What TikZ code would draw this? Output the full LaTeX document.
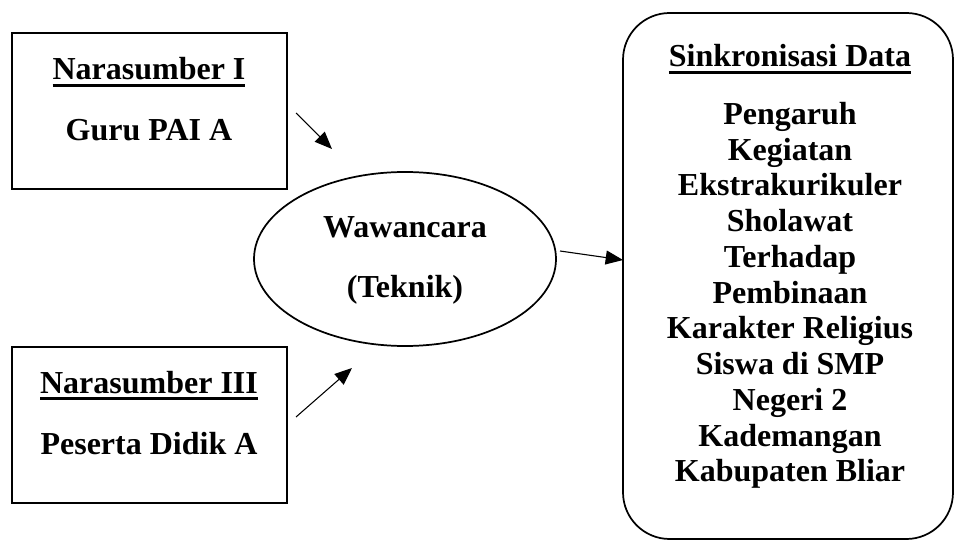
\documentclass[tikz,border=0pt]{standalone}
\usepackage{fontspec}
\setmainfont{Liberation Serif}
\usetikzlibrary{arrows.meta}
\tikzset{panah/.style = {-{Triangle[length=13pt,width=10.5pt]}, line width=0.8pt}}
\tikzset{teks/.style = {font=\fontsize{24}{26.8}\selectfont\bfseries, inner sep=0, anchor=base}}
\newcommand{\garisbawah}[1]{\setbox0\hbox{#1}\rlap{\rule[-5.2pt]{\wd0}{2.2pt}}\box0}

\begin{document}
\begin{tikzpicture}[x=0.75pt, y=-0.75pt]
\useasboundingbox (0,0) rectangle (956,541);
\draw[line width=1.5pt] (12,33) rectangle (287,189);
\draw[line width=1.5pt] (12,347) rectangle (287,503);
\draw[line width=1.3pt] (405,259) ellipse (151 and 87);
\draw[line width=1.3pt, rounded corners=35pt] (623,13) rectangle (953,539);
\node[teks] (ns1) at (149,80) {\garisbawah{Narasumber I}};
\node[teks] (guru) at (149,141) {Guru PAI A};
\node[teks] (ns3) at (149,393) {\garisbawah{Narasumber III}};
\node[teks] (siswa) at (149,454) {Peserta Didik A};
\node[teks] (wwc) at (405,238) {Wawancara};
\node[teks] (tek) at (405,298) {(Teknik)};
\node[teks] (sink) at (790,67) {\garisbawah{Sinkronisasi Data}};
\node[teks, anchor=north, align=center] (isi) at (790,102) {Pengaruh\\Kegiatan\\Ekstrakurikuler\\Sholawat\\Terhadap\\Pembinaan\\Karakter Religius\\Siswa di SMP\\Negeri 2\\Kademangan\\Kabupaten Bliar};
\coordinate (p1a) at (296,113);
\coordinate (p1b) at (332,149);
\coordinate (p3a) at (296,417);
\coordinate (p3b) at (352,368);
\coordinate (p2a) at (560,251);
\coordinate (p2b) at (623,260);
\draw[panah] (p1a) -- (p1b);
\draw[panah] (p3a) -- (p3b);
\draw[panah] (p2a) -- (p2b);
\end{tikzpicture}
\end{document}
